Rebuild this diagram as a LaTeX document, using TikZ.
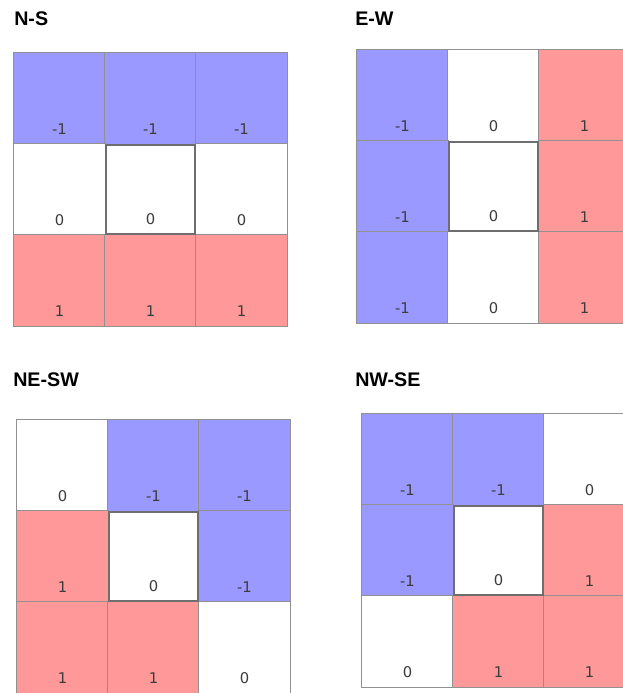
\documentclass[tikz,border=0pt]{standalone}
\usepackage{fontspec}
\setmainfont{DejaVu Sans}
\newfontfamily\titlefont{Liberation Sans}
\usepackage{xcolor}
\usepackage{tikz}
\definecolor{negblue}{RGB}{153,153,255}
\definecolor{posred}{RGB}{255,153,153}
\definecolor{gridline}{RGB}{145,145,145}
\definecolor{midline}{RGB}{110,110,110}
\definecolor{numgray}{RGB}{60,60,60}

\begin{document}
\begin{tikzpicture}[x=0.025cm,y=0.025cm,
  cell/.style={rectangle,draw=gridline,line width=0.7pt,minimum size=2.275cm,inner sep=0pt,label={[num]south:#1}},
  neg/.style={cell=#1,fill=negblue},
  pos/.style={cell=#1,fill=posred},
  zero/.style={cell=#1,fill=white},
  mid/.style={cell=#1,fill=white,draw=midline,line width=1.3pt,minimum size=2.22cm},
  num/.style={anchor=base,yshift=7pt,inner sep=0pt,font=\fontsize{10.5}{12}\selectfont,text=numgray},
  ttl/.style={anchor=west,inner sep=0pt,font=\titlefont\bfseries\fontsize{14}{16}\selectfont}]
\path[use as bounding box,fill=white] (0,0) rectangle (623,693);
% N-S
\node[ttl] (tns) at (14,674) {N-S};
\node[neg=-1] (ns11) at (59.5,594.5) {};
\node[neg=-1] (ns12) at (150.5,594.5) {};
\node[neg=-1] (ns13) at (241.5,594.5) {};
\node[zero=0] (ns21) at (59.5,503.5) {};
\node[zero=0] (ns23) at (241.5,503.5) {};
\node[pos=1] (ns31) at (59.5,412.5) {};
\node[pos=1] (ns32) at (150.5,412.5) {};
\node[pos=1] (ns33) at (241.5,412.5) {};
\node[mid=0] (ns22) at (150.5,503.5) {};
% E-W
\node[ttl] (tew) at (355,674) {E-W};
\node[neg=-1] (ew11) at (402.5,597.5) {};
\node[zero=0] (ew12) at (493.5,597.5) {};
\node[pos=1] (ew13) at (584.5,597.5) {};
\node[neg=-1] (ew21) at (402.5,506.5) {};
\node[pos=1] (ew23) at (584.5,506.5) {};
\node[neg=-1] (ew31) at (402.5,415.5) {};
\node[zero=0] (ew32) at (493.5,415.5) {};
\node[pos=1] (ew33) at (584.5,415.5) {};
\node[mid=0] (ew22) at (493.5,506.5) {};
% NE-SW
\node[ttl] (tnesw) at (13,313) {NE-SW};
\node[zero=0] (nesw11) at (62.5,227.5) {};
\node[neg=-1] (nesw12) at (153.5,227.5) {};
\node[neg=-1] (nesw13) at (244.5,227.5) {};
\node[pos=1] (nesw21) at (62.5,136.5) {};
\node[neg=-1] (nesw23) at (244.5,136.5) {};
\node[pos=1] (nesw31) at (62.5,45.5) {};
\node[pos=1] (nesw32) at (153.5,45.5) {};
\node[zero=0] (nesw33) at (244.5,45.5) {};
\node[mid=0] (nesw22) at (153.5,136.5) {};
% NW-SE
\node[ttl] (tnwse) at (355,313) {NW-SE};
\node[neg=-1] (nwse11) at (407.5,233.5) {};
\node[neg=-1] (nwse12) at (498.5,233.5) {};
\node[zero=0] (nwse13) at (589.5,233.5) {};
\node[neg=-1] (nwse21) at (407.5,142.5) {};
\node[pos=1] (nwse23) at (589.5,142.5) {};
\node[zero=0] (nwse31) at (407.5,51.5) {};
\node[pos=1] (nwse32) at (498.5,51.5) {};
\node[pos=1] (nwse33) at (589.5,51.5) {};
\node[mid=0] (nwse22) at (498.5,142.5) {};
\end{tikzpicture}
\end{document}
